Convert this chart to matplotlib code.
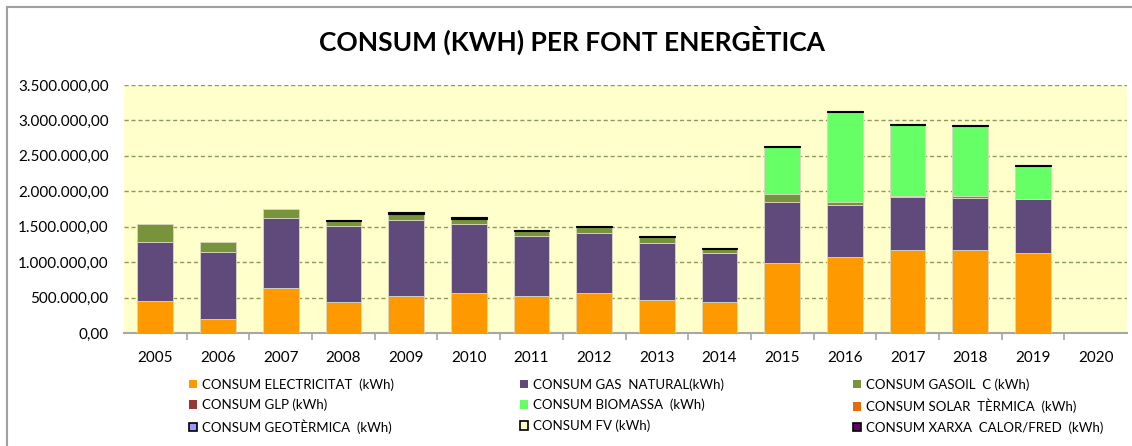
import matplotlib
matplotlib.use("Agg")

import matplotlib.pyplot as plt
from matplotlib.patches import Patch
from matplotlib.lines import Line2D
from matplotlib.ticker import FuncFormatter, FixedLocator
import numpy as np

# ---------------------------
# Data (kWh)
# ---------------------------
years = ["2005", "2006", "2007", "2008", "2009", "2010", "2011", "2012",
         "2013", "2014", "2015", "2016", "2017", "2018", "2019", "2020"]

electricitat = [458000, 204000, 637000, 439000, 528000, 566000, 528000, 570000,
                465000, 432000, 986000, 1075000, 1169000, 1169000, 1131000, 0]
gas_natural = [821000, 934000, 990000, 1065000, 1066000, 966000, 845000, 840000,
               807000, 695000, 864000, 738000, 747000, 737000, 756000, 0]
gasoil_c = [259000, 147000, 127000, 71000, 89000, 81000, 61000, 82000,
            76000, 60000, 108000, 37000, 23000, 28000, 0, 0]
glp = [0] * 16
biomassa = [0, 0, 0, 0, 0, 0, 0, 0, 0, 0, 666000, 1263000, 991000, 982000, 469000, 0]
solar_termica = [0] * 16
geotermica = [0] * 16
fv = [0, 0, 0, 18000, 20000, 19000, 17000, 18000,
      19000, 17000, 22000, 23000, 22000, 20000, 22000, 0]
xarxa = [0] * 16

series = [
    ("CONSUM ELECTRICITAT  (kWh)", electricitat, "#FF9900", False),
    ("CONSUM GAS  NATURAL(kWh)", gas_natural, "#604A7B", False),
    ("CONSUM GASOIL  C (kWh)", gasoil_c, "#77933C", False),
    ("CONSUM GLP (kWh)", glp, "#953735", False),
    ("CONSUM BIOMASSA  (kWh)", biomassa, "#66FF66", False),
    ("CONSUM SOLAR  TÈRMICA  (kWh)", solar_termica, "#E46C0A", False),
    ("CONSUM GEOTÈRMICA  (kWh)", geotermica, "#9999FF", True),
    ("CONSUM FV (kWh)", fv, "#FFFFCC", True),
    ("CONSUM XARXA  CALOR/FRED  (kWh)", xarxa, "#660066", True),
]

plt.rcParams["font.family"] = ["Lato", "DejaVu Sans"]

fig = plt.figure(figsize=(11.32, 4.46), dpi=100)
ax = fig.add_axes([124 / 1132, 1 - 333 / 446, 1003 / 1132, 248 / 446])
ax.set_facecolor("#FFFFCC")

# ---------------------------
# Stacked bars (zero segments skipped so no stray edges)
# ---------------------------
x = np.arange(len(years))
bottom = np.zeros(len(years))
for label, vals, color, edged in series:
    vals = np.array(vals, dtype=float)
    nz = vals > 0
    if nz.any():
        if edged:
            # tiny segments: Excel shows them as a solid black cap
            ax.bar(x[nz], vals[nz], width=0.57, bottom=bottom[nz], color="black",
                   edgecolor="black", linewidth=0.8, zorder=3)
        else:
            ax.bar(x[nz], vals[nz], width=0.57, bottom=bottom[nz], color=color,
                   edgecolor="#D8D8C0", linewidth=0.6, zorder=3)
    bottom += vals

# ---------------------------
# Axes styling
# ---------------------------
ax.set_xlim(-0.5, len(years) - 0.5)
ax.set_ylim(0, 3500000)
ax.set_yticks(np.arange(0, 3500001, 500000))
ax.yaxis.set_major_formatter(FuncFormatter(
    lambda v, p: f"{v:,.2f}".replace(",", "X").replace(".", ",").replace("X", ".")))

for yv in np.arange(500000, 3500001, 500000):
    ax.axhline(yv, color="#8C9A5A", linestyle=(0, (3, 2)), linewidth=1.0, zorder=1)

ax.set_xticks(x)
ax.set_xticklabels(years)
ax.xaxis.set_minor_locator(FixedLocator(np.arange(0.5, len(years) - 0.5, 1)))

for side in ["top", "right", "left"]:
    ax.spines[side].set_visible(False)
ax.spines["bottom"].set_color("#A6A6A6")
ax.spines["bottom"].set_linewidth(1.5)

ax.tick_params(axis="y", length=0, pad=11, labelsize=11, labelcolor="black")
ax.tick_params(axis="x", which="major", length=0, pad=13, labelsize=11)
ax.tick_params(axis="x", which="minor", length=5, width=1.2, color="#A6A6A6", direction="out")

# ---------------------------
# Title
# ---------------------------
fig.text(0.505, 0.91, "CONSUM (KWH) PER FONT ENERGÈTICA", ha="center", va="center",
         fontsize=19, fontweight="bold")

# ---------------------------
# Legend (three columns, row-major order like the original)
# ---------------------------
col_x = [189 / 1132, 520 / 1132, 853 / 1132]
for c in range(3):
    handles = []
    for r in range(3):
        label, vals, color, edged = series[r * 3 + c]
        handles.append(Patch(facecolor=color, edgecolor="black" if edged else color,
                             linewidth=1.2 if edged else 0, label=label))
    fig.legend(handles=handles, loc="upper left", bbox_to_anchor=(col_x[c], 1 - 378 / 446),
               frameon=False, handlelength=0.6, handleheight=0.6,
               handletextpad=0.35, labelspacing=0.62, borderpad=0, borderaxespad=0,
               prop={"family": ["Lato", "DejaVu Sans"], "size": 9.5})

# ---------------------------
# Outer chart border (left and top visible)
# ---------------------------
fig.add_artist(Line2D([7 / 1132, 7 / 1132], [0, 1 - 7 / 446], color="#A0A0A0",
                      linewidth=1.5, transform=fig.transFigure))
fig.add_artist(Line2D([7 / 1132, 1], [1 - 7 / 446, 1 - 7 / 446], color="#A0A0A0",
                      linewidth=1.5, transform=fig.transFigure))

fig.savefig("out.png", dpi=100)
plt.close(fig)
